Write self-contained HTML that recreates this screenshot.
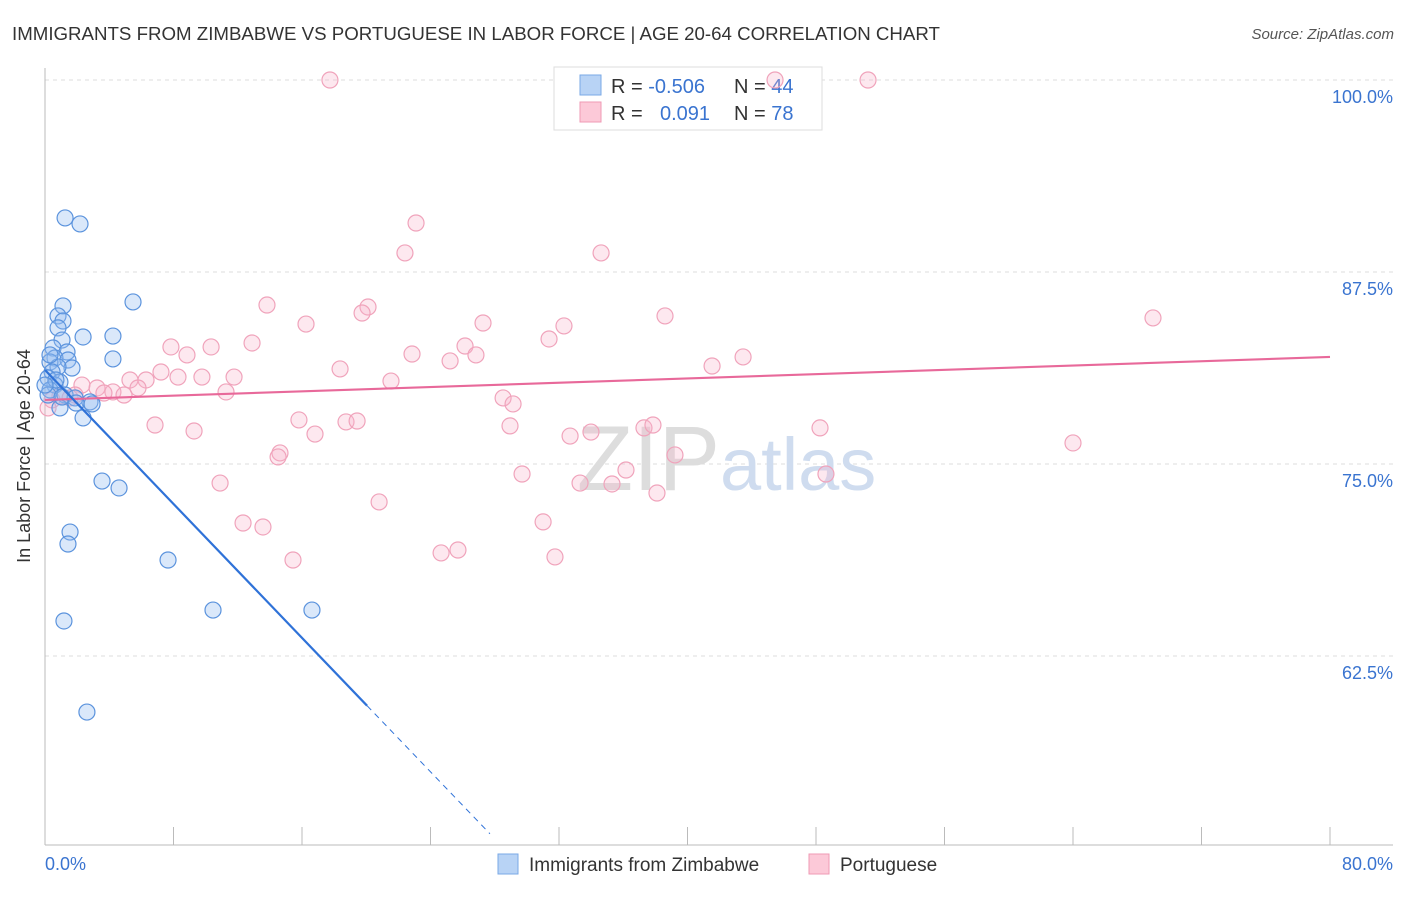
<!DOCTYPE html>
<html><head><meta charset="utf-8"><style>
body{margin:0;background:#fff;font-family:"Liberation Sans",sans-serif;}
svg text{font-family:"Liberation Sans",sans-serif;}
</style></head><body>
<svg width="1406" height="892" xmlns="http://www.w3.org/2000/svg">
<text x="12" y="40" font-size="18.7" fill="#333">IMMIGRANTS FROM ZIMBABWE VS PORTUGUESE IN LABOR FORCE | AGE 20-64 CORRELATION CHART</text>
<text x="1394" y="39" font-size="15" fill="#555" font-style="italic" text-anchor="end">Source: ZipAtlas.com</text>
<g id="grid"></g>
<g id="axes"></g>
<text x="720" y="490" font-size="92" fill="#ddd" text-anchor="end" font-family="Liberation Serif">ZIP</text>
<text x="720" y="490" font-size="74" fill="#cfdcef">atlas</text>
<g>
<rect x="554" y="67" width="268" height="63" fill="#fff" stroke="#ddd"/>
<rect x="580" y="75" width="21" height="20" fill="#b8d3f5" stroke="#7aa8e6"/>
<rect x="580" y="102" width="21" height="20" fill="#fcc9d8" stroke="#ef9ab4"/>
<text x="611" y="93" font-size="20" fill="#333">R = <tspan fill="#3a74d0">-0.506</tspan></text>
<text x="734" y="93" font-size="20" fill="#333">N = <tspan fill="#3a74d0">44</tspan></text>
<text x="611" y="120" font-size="20" fill="#333">R = <tspan fill="#3a74d0" x="660">0.091</tspan></text>
<text x="734" y="120" font-size="20" fill="#333">N = <tspan fill="#3a74d0">78</tspan></text>
</g>
<g id="pink"></g>
<g id="blue"></g>
<g id="lines"></g>
<text x="30" y="456" font-size="18" fill="#333" text-anchor="middle" transform="rotate(-90 30 456)">In Labor Force | Age 20-64</text>
<text x="45" y="870" font-size="18" fill="#3a74d0">0.0%</text>
<text x="1393" y="870" font-size="18" fill="#3a74d0" text-anchor="end">80.0%</text>
<g>
<rect x="498" y="854" width="20" height="20" fill="#b8d3f5" stroke="#7aa8e6"/>
<text x="529" y="871" font-size="19" fill="#333">Immigrants from Zimbabwe</text>
<rect x="809" y="854" width="20" height="20" fill="#fcc9d8" stroke="#ef9ab4"/>
<text x="840" y="871" font-size="19" fill="#333">Portuguese</text>
</g>
</svg>
<script>
const yTicks=[100,87.5,75,62.5];
const yTickLabels=["100.0%","87.5%","75.0%","62.5%"];
const xTicks=[0,8,16,24,32,40,48,56,64,72,80];
const blueX=[1.25,2.18,1.12,5.48,0.81,1.12,0.81,2.37,4.23,1.06,0.50,1.37,4.23,0.62,1.43,0.31,1.68,0.81,0.44,0.19,0.93,0.62,0.31,1.25,1.87,2.80,0.93,2.37,3.55,4.61,1.56,1.43,7.66,10.46,16.62,1.18,2.61,0.19,0.31,0.68,1.06,0,2.93,1.93];
const blueY=[91.02,90.63,85.29,85.55,84.64,84.31,83.86,83.27,83.33,83.07,82.55,82.29,81.84,81.90,81.77,81.64,81.25,81.32,80.99,80.60,80.34,80.14,79.82,79.49,79.30,79.04,78.65,78.00,73.89,73.44,70.57,69.79,68.75,65.49,65.49,64.78,58.85,79.49,82.10,80.47,79.36,80.14,78.91,78.97];
const pinkX=[17.74,51.24,45.45,23.10,22.41,34.62,13.82,20.11,19.74,16.25,27.27,38.60,32.31,68.98,31.38,12.89,7.84,10.34,26.15,8.84,22.85,26.83,25.22,43.46,41.53,18.37,7.22,8.28,9.77,11.77,5.29,6.29,21.54,2.30,3.24,5.79,4.23,11.27,3.67,4.92,0.93,1.87,0.44,1.56,28.52,29.14,15.81,18.74,19.43,28.95,6.85,9.28,16.81,32.69,33.99,37.29,37.85,48.25,64.00,14.63,14.51,39.22,29.70,36.17,48.62,10.90,33.31,35.30,38.10,20.80,12.33,13.57,31.01,24.66,25.71,31.75,15.44,0.19];
const pinkY=[100,100,100,90.69,88.74,88.74,85.35,85.22,84.83,84.11,84.18,84.64,83.99,84.51,83.14,82.88,82.62,82.62,82.68,82.10,82.16,82.10,81.71,81.97,81.38,81.19,80.99,80.66,80.66,80.66,80.47,80.47,80.40,80.14,79.95,79.95,79.69,79.69,79.62,79.49,79.43,79.49,79.17,79.30,79.30,78.91,77.87,77.74,77.80,77.48,77.54,77.15,76.95,76.82,77.08,77.35,77.54,77.35,76.37,75.72,75.46,75.59,74.35,74.61,74.35,73.76,73.76,73.70,73.11,72.53,71.16,70.90,71.23,69.21,69.40,68.95,68.75,78.65];
const blueTrend=[81.12,-1.09,20.05,27.7];
const pinkTrend=[79.17,81.97];
const NS="http://www.w3.org/2000/svg";
const sx=v=>45+v/80*1285, sy=v=>80+(100-v)/12.5*192;
function mk(t,a,p){const e=document.createElementNS(NS,t);for(const k in a)e.setAttribute(k,a[k]);p.appendChild(e);return e;}
const grid=document.getElementById('grid'),axes=document.getElementById('axes');
yTicks.forEach((v,i)=>{
 const l=mk('line',{x1:45,x2:1393,y1:sy(v),y2:sy(v),stroke:'#ddd','stroke-dasharray':'4,4'},grid);
 
 
 const t=mk('text',{x:1393,y:sy(v)+23,'font-size':18,fill:'#3a74d0','text-anchor':'end'},axes);
 t.textContent=yTickLabels[i];
 
 
});
mk('line',{x1:45,x2:45,y1:68,y2:845,stroke:'#bbb'},axes);
mk('line',{x1:45,x2:1393,y1:845,y2:845,stroke:'#bbb'},axes);
xTicks.forEach(v=>{
 const l=mk('line',{x1:sx(v),x2:sx(v),y1:827,y2:845,stroke:'#bbb'},axes);
 
 
});
const pg=document.getElementById('pink'),bg=document.getElementById('blue'),lg=document.getElementById('lines');
pinkX.forEach((x,i)=>{
 const c=mk('circle',{cx:sx(x),cy:sy(pinkY[i]),r:8,fill:'rgba(248,180,202,0.3)',stroke:'#f0a3bb','stroke-width':1.2},pg);
 
 
});
blueX.forEach((x,i)=>{
 const c=mk('circle',{cx:sx(x),cy:sy(blueY[i]),r:8,fill:'rgba(150,190,240,0.35)',stroke:'#5b93dd','stroke-width':1.2},bg);
 
 
});
const pl=mk('line',{x1:sx(0),y1:sy(pinkTrend[0]),x2:sx(80),y2:sy(pinkTrend[1]),stroke:'#e8699a','stroke-width':2.2},lg);


const bf=x=>blueTrend[0]+blueTrend[1]*x;
const bl=mk('line',{x1:sx(0),y1:sy(bf(0)),x2:sx(blueTrend[2]),y2:sy(bf(blueTrend[2])),stroke:'#2f72d8','stroke-width':2.2},lg);


const bd=mk('line',{x1:sx(blueTrend[2]),y1:sy(bf(blueTrend[2])),x2:sx(blueTrend[3]),y2:sy(bf(blueTrend[3])),stroke:'#2f72d8','stroke-width':1,'stroke-dasharray':'6,5'},lg);


</script>
</body></html>
